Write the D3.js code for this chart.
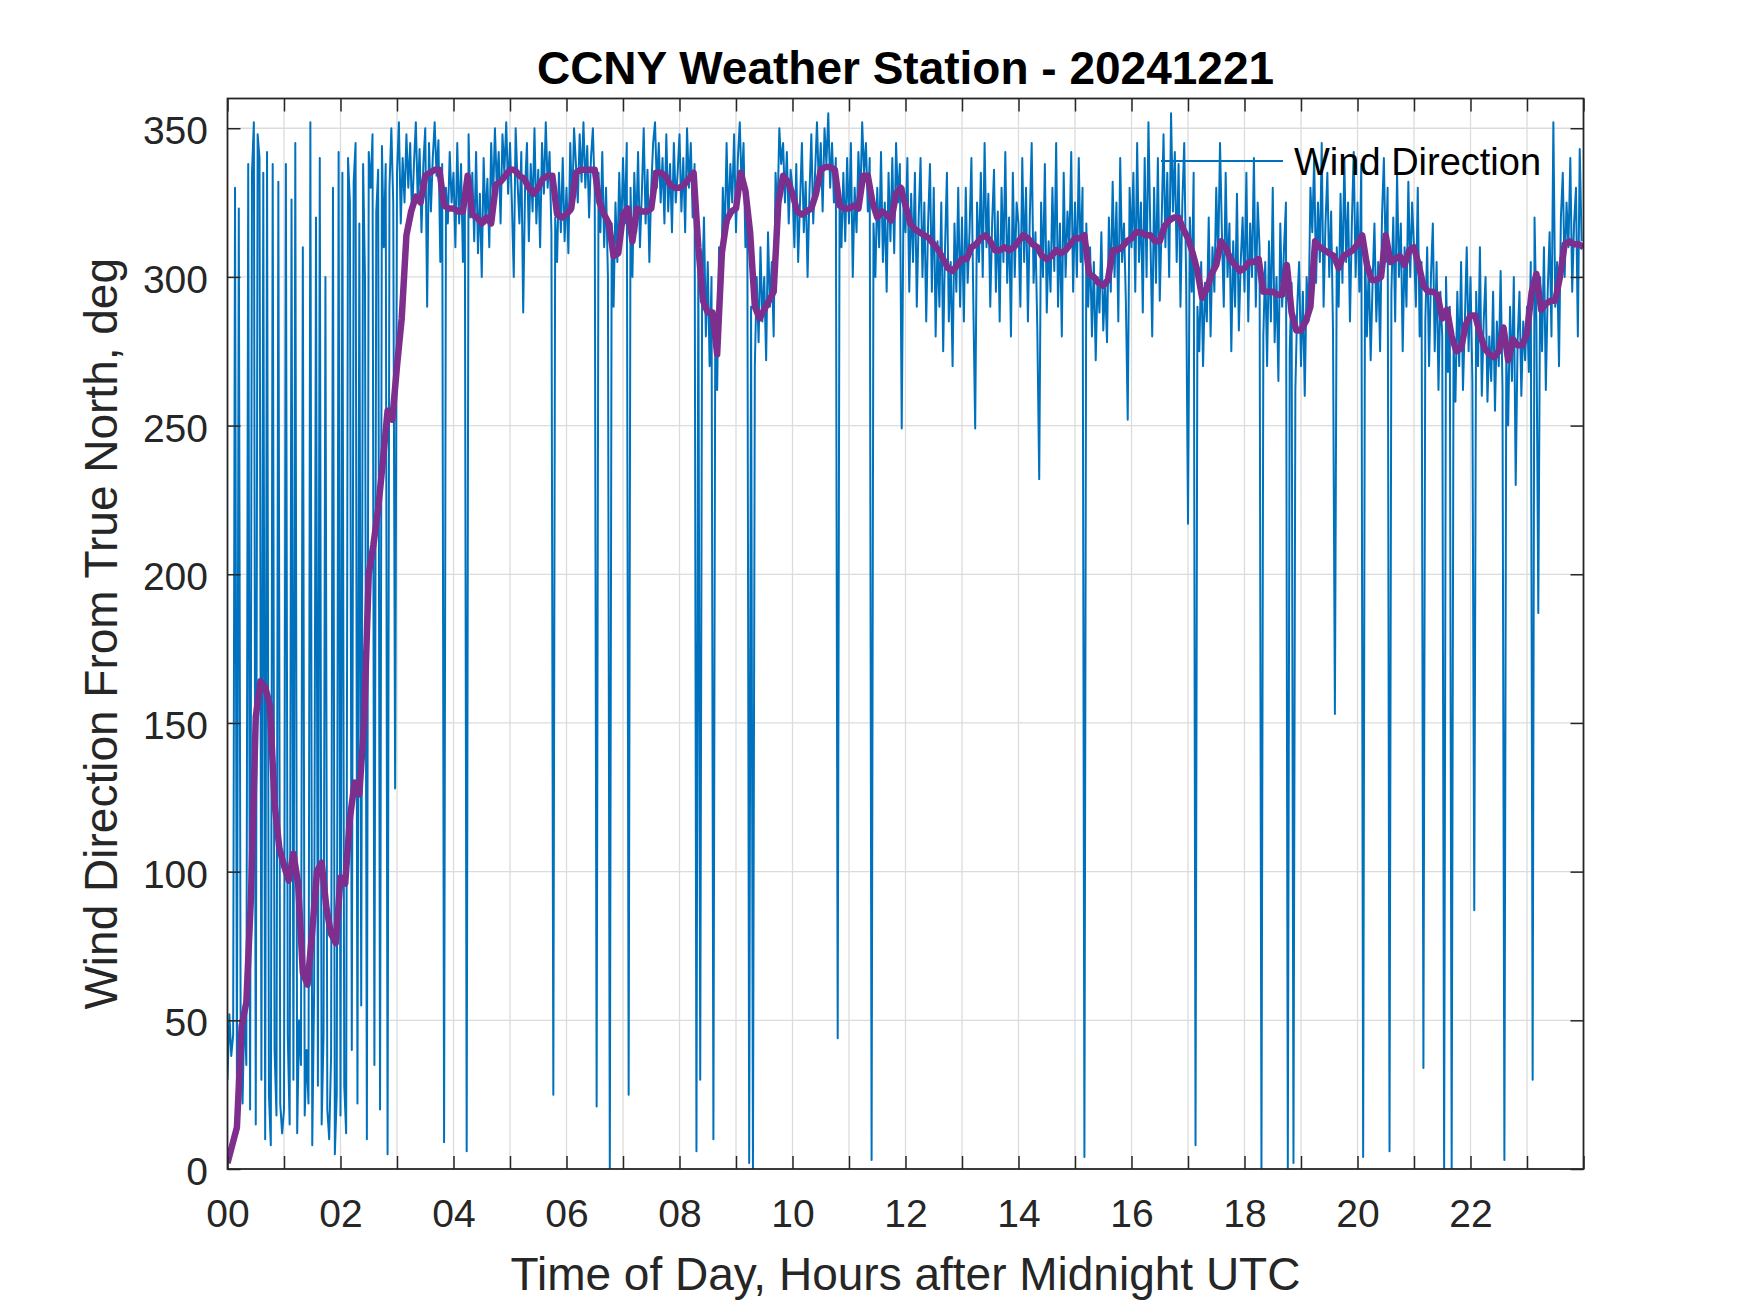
<!DOCTYPE html>
<html>
<head>
<meta charset="utf-8">
<script src="https://cdn.jsdelivr.net/npm/d3@7"></script>
<style>
  body { margin: 0; background: #fff; }
  text { font-family: "Liberation Sans", Arial, Helvetica, sans-serif; }
</style>
</head>
<body>
<svg id="chart"></svg>
<script>
const width = 1750, height = 1313;
const plot = {left: 227.5, top: 98.5, right: 1583.5, bottom: 1169};

// raw wind direction, one sample every 2 minutes (30 per hour)
const sampleMinutes = 2;
const windDir = [
  30,52,38,45,330,28,323,40,22,55,35,338,20,335,352,15,348,340,30,335,10,342,25,8,338,40,18,332,22,12,
  20,338,45,15,326,30,345,12,50,35,310,18,40,22,352,8,60,320,28,340,15,45,300,20,10,38,330,5,25,342,
  18,335,28,12,340,325,40,332,345,22,318,55,338,300,10,342,330,348,35,322,336,20,344,310,338,5,330,350,325,128,
  335,352,318,340,325,348,330,345,320,338,352,326,343,315,338,350,290,345,322,340,352,334,346,305,338,9,330,318,342,325,
  335,310,345,318,338,305,330,6,348,320,335,312,342,308,328,300,340,318,333,310,345,325,350,330,342,318,348,335,352,328,
  345,325,300,350,332,318,342,288,330,345,312,338,322,350,318,336,310,345,328,352,330,342,315,25,320,305,335,315,340,312,
  330,308,345,322,350,338,325,348,332,352,330,344,320,340,350,328,21,335,315,342,310,330,300,0,318,290,325,305,335,312,
  340,318,345,25,330,300,335,315,342,310,328,350,318,336,305,330,345,352,330,345,325,340,318,348,322,338,315,345,325,335,
  348,322,340,315,350,330,345,320,338,6,310,30,295,320,280,305,270,300,10,285,262,310,290,330,312,345,318,338,325,348,
  315,340,352,330,345,310,325,2,290,0,270,300,278,310,285,300,272,315,290,305,280,335,320,350,338,345,325,342,318,336,
  330,310,338,305,325,345,315,332,300,328,348,318,335,352,330,345,322,350,338,355,330,345,325,340,44,328,310,335,312,340,
  318,345,300,330,315,342,325,352,335,345,322,340,3,318,300,330,310,342,305,325,295,335,312,340,308,345,325,338,249,330,
  315,340,295,328,305,335,290,320,340,300,325,285,318,338,295,330,280,312,290,325,275,310,335,285,305,270,318,295,330,290,
  320,285,330,298,315,340,292,249,325,305,335,300,345,310,328,290,318,336,295,322,285,330,305,342,298,320,280,335,300,325,
  318,290,340,305,330,285,320,345,298,315,282,232,325,300,338,288,312,295,330,302,345,290,318,280,335,300,322,310,342,295,
  325,300,340,305,330,4,318,290,310,280,305,272,300,288,315,282,298,278,320,295,332,300,325,285,340,305,318,292,252,330,
  310,335,295,345,305,325,288,340,300,352,315,280,330,298,340,292,318,348,310,335,300,355,322,342,305,338,290,325,345,300,
  217,320,295,335,8,290,275,305,270,298,285,320,280,310,295,330,305,345,315,290,335,300,318,275,312,290,328,282,305,320,
  295,335,285,318,300,340,290,325,310,0,280,305,270,312,285,330,278,300,265,318,290,310,325,0,275,298,2,262,290,305,
  270,295,260,300,285,330,315,340,298,325,305,345,290,318,335,300,322,282,153,310,290,328,298,340,305,325,285,318,342,300,
  325,295,338,4,310,280,305,272,298,318,285,305,275,320,340,305,330,6,295,320,285,335,300,318,275,310,290,332,300,325,
  310,290,330,280,305,34,285,310,270,300,318,275,305,262,295,280,0,300,268,290,0,278,258,295,270,305,262,285,310,275,
  300,265,87,295,270,310,260,285,300,258,280,265,295,255,285,270,302,262,3,275,250,290,265,300,230,278,295,260,285,272,
  290,268,305,30,320,285,187,300,275,310,262,295,315,280,352,290,305,270,320,335,300,325,310,340,295,318,330,280,343,312
];

// smoothed direction, one value every 5 minutes
const avgMinutes = 5;
const windAvg = [
  2,8,14,48,56,92,152,164,162,156,123,108,
  102,97,106,96,66,62,80,100,103,88,79,76,
  98,96,118,130,126,150,200,210,222,238,255,252,
  270,286,314,322,327,325,334,335,336,336,324,323,
  323,322,322,334,321,320,318,320,318,331,332,334,
  336,336,334,333,330,328,330,333,334,334,321,320,
  321,323,335,336,336,336,336,325,321,318,307,308,
  321,323,312,323,322,322,323,335,335,334,331,330,
  330,331,333,335,310,292,288,288,274,308,319,322,
  323,335,329,315,290,286,289,292,295,325,334,332,
  328,322,321,322,323,328,336,337,337,336,324,323,
  323,324,323,334,334,325,320,322,321,319,328,330,
  324,318,316,315,314,313,311,309,306,303,302,304,
  306,306,310,311,313,314,312,309,309,310,309,310,
  312,314,313,311,310,307,306,307,309,308,309,311,
  313,313,314,301,300,298,297,299,309,309,310,312,
  313,315,315,314,314,312,312,317,319,320,320,316,
  313,308,302,293,296,301,304,312,310,306,304,302,
  303,305,305,306,295,295,295,294,294,304,288,282,
  282,285,290,312,310,309,308,307,303,307,308,309,
  311,314,304,299,299,300,314,305,306,307,304,309,
  310,304,297,295,295,294,286,289,280,275,276,284,
  287,287,281,276,274,273,275,283,272,279,277,277,
  281,295,301,289,291,292,292,300,311,312,311,311,
  310
];

const hourTicks = d3.range(0, 25);          // a tick every hour
const dirTicks = [0, 50, 100, 150, 200, 250, 300, 350];

const axisColor = "#262626", gridColor = "#dcdcdc";
const blue = "#0072BD", purple = "#7E2F8E";

const svg = d3.select("#chart")
  .attr("width", width)
  .attr("height", height);

svg.append("rect").attr("width", width).attr("height", height).attr("fill", "#fff");

const x = d3.scaleLinear().domain([0, 24]).range([plot.left, plot.right]);
const y = d3.scaleLinear().domain([0, 360]).range([plot.bottom, plot.top]);

// grid
svg.append("g").selectAll("line.vg")
  .data(hourTicks.filter(h => h > 0 && h < 24))
  .enter().append("line")
  .attr("x1", d => x(d)).attr("x2", d => x(d))
  .attr("y1", plot.top).attr("y2", plot.bottom)
  .attr("stroke", gridColor).attr("stroke-width", 1.3);
svg.append("g").selectAll("line.hg")
  .data(dirTicks.filter(v => v > 0))
  .enter().append("line")
  .attr("x1", plot.left).attr("x2", plot.right)
  .attr("y1", d => y(d)).attr("y2", d => y(d))
  .attr("stroke", gridColor).attr("stroke-width", 1.3);

// clip data to axes box
svg.append("clipPath").attr("id", "clip")
  .append("rect")
  .attr("x", plot.left).attr("y", plot.top)
  .attr("width", plot.right - plot.left).attr("height", plot.bottom - plot.top);

const data = svg.append("g").attr("clip-path", "url(#clip)");

data.append("path")
  .datum(windDir)
  .attr("fill", "none")
  .attr("stroke", blue)
  .attr("stroke-width", 2)
  .attr("stroke-linejoin", "round")
  .attr("d", d3.line()
    .x((d, i) => x(i * sampleMinutes / 60))
    .y(d => y(d)));

data.append("path")
  .datum(windAvg)
  .attr("fill", "none")
  .attr("stroke", purple)
  .attr("stroke-width", 6.5)
  .attr("stroke-linejoin", "round")
  .attr("d", d3.line()
    .x((d, i) => x(i * avgMinutes / 60))
    .y(d => y(d)));

// axes (ticks point inward)
const hourLabel = h => (h % 2 === 0 && h < 24) ? d3.format("02d")(h) : "";

const xBottom = svg.append("g")
  .attr("transform", `translate(0,${plot.bottom})`)
  .call(d3.axisBottom(x).tickValues(hourTicks).tickSizeInner(-13).tickSizeOuter(0)
    .tickPadding(30).tickFormat(hourLabel));
const xTop = svg.append("g")
  .attr("transform", `translate(0,${plot.top})`)
  .call(d3.axisTop(x).tickValues(hourTicks).tickSizeInner(-13).tickSizeOuter(0).tickFormat(""));
const yLeft = svg.append("g")
  .attr("transform", `translate(${plot.left},0)`)
  .call(d3.axisLeft(y).tickValues(dirTicks).tickSizeInner(-13).tickSizeOuter(0).tickPadding(19.5));
const yRight = svg.append("g")
  .attr("transform", `translate(${plot.right},0)`)
  .call(d3.axisRight(y).tickValues(dirTicks).tickSizeInner(-13).tickSizeOuter(0).tickFormat(""));

[xBottom, xTop, yLeft, yRight].forEach(g => {
  g.select(".domain").remove();
  g.selectAll(".tick line").attr("stroke", axisColor).attr("stroke-width", 1.5);
  g.selectAll(".tick text")
    .attr("fill", axisColor)
    .style("font-size", "39px");
});
yLeft.selectAll(".tick text").attr("dy", "0.4em");

svg.append("rect")
  .attr("x", plot.left).attr("y", plot.top)
  .attr("width", plot.right - plot.left).attr("height", plot.bottom - plot.top)
  .attr("fill", "none")
  .attr("stroke", axisColor)
  .attr("stroke-width", 1.8);

// title and labels
svg.append("text")
  .attr("x", (plot.left + plot.right) / 2)
  .attr("y", 84)
  .attr("text-anchor", "middle")
  .style("font-size", "46px")
  .style("font-weight", "bold")
  .attr("fill", "#000")
  .text("CCNY Weather Station - 20241221");

svg.append("text")
  .attr("x", (plot.left + plot.right) / 2)
  .attr("y", 1290)
  .attr("text-anchor", "middle")
  .style("font-size", "46px")
  .attr("fill", axisColor)
  .text("Time of Day, Hours after Midnight UTC");

svg.append("text")
  .attr("transform", `translate(117,${(plot.top + plot.bottom) / 2}) rotate(-90)`)
  .attr("text-anchor", "middle")
  .style("font-size", "46px")
  .attr("fill", axisColor)
  .text("Wind Direction From True North, deg");

// legend (no box, drawn over the data)
const legend = svg.append("g").attr("transform", "translate(1161,161)");
legend.append("line")
  .attr("x1", 0).attr("x2", 122)
  .attr("stroke", blue).attr("stroke-width", 1.8);
legend.append("text")
  .attr("x", 133).attr("y", 14)
  .style("font-size", "38px")
  .attr("fill", "#000")
  .text("Wind Direction");
</script>
</body>
</html>
